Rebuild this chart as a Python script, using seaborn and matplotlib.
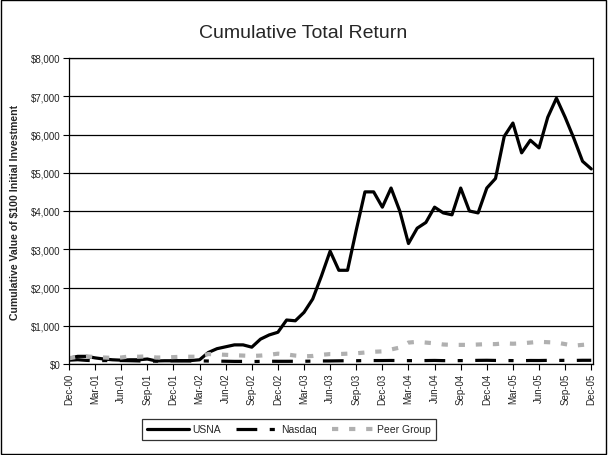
import matplotlib
matplotlib.use("Agg")
import matplotlib.pyplot as plt
from matplotlib.patches import Rectangle
from matplotlib.lines import Line2D
import seaborn as sns
import pandas as pd
import numpy as np

sns.set_style("white")
plt.rcParams["font.family"] = ["Liberation Sans", "DejaVu Sans"]

# Monthly data, Dec-00 .. Dec-05 (61 points)
months = list(range(61))
usna = [150, 200, 200, 160, 130, 110, 100, 110, 110, 130, 80, 85,
        85, 85, 90, 110, 300, 400, 450, 500, 500, 440, 650, 760,
        830, 1150, 1130, 1350, 1700, 2300, 2950, 2450, 2450, 3500, 4500, 4500,
        4100, 4600, 4000, 3150, 3550, 3700, 4100, 3950, 3900, 4600, 4000, 3950,
        4600, 4850, 5950, 6300, 5520, 5850, 5650, 6450, 6950, 6450, 5900, 5300,
        5100]
nasdaq = [100, 112, 95, 85, 90, 88, 90, 86, 80, 72, 76, 82, 85,
          84, 80, 82, 78, 76, 72, 68, 68, 64, 68, 72, 70,
          70, 71, 72, 75, 79, 80, 83, 86, 85, 89, 90, 90,
          92, 90, 88, 87, 90, 93, 88, 86, 89, 91, 95, 97,
          93, 91, 89, 86, 92, 91, 95, 94, 95, 93, 97, 97]
peer = [150, 190, 200, 180, 170, 160, 170, 200, 190, 200, 170, 170,
        180, 190, 190, 190, 260, 250, 240, 230, 220, 210, 220, 240,
        270, 250, 220, 200, 210, 240, 260, 260, 270, 280, 300, 320,
        330, 380, 430, 560, 580, 560, 540, 510, 500, 500, 500, 510,
        520, 520, 540, 530, 540, 560, 580, 570, 560, 520, 480, 500,
        520]

tick_labels = ["Dec-00", "Mar-01", "Jun-01", "Sep-01", "Dec-01", "Mar-02", "Jun-02",
               "Sep-02", "Dec-02", "Mar-03", "Jun-03", "Sep-03", "Dec-03", "Mar-04",
               "Jun-04", "Sep-04", "Dec-04", "Mar-05", "Jun-05", "Sep-05", "Dec-05"]
y_ticks = [0, 1000, 2000, 3000, 4000, 5000, 6000, 7000, 8000]
y_labels = ["$0", "$1,000", "$2,000", "$3,000", "$4,000", "$5,000", "$6,000", "$7,000", "$8,000"]

df = pd.DataFrame({"month": months, "USNA": usna, "Nasdaq": nasdaq, "Peer Group": peer})

fig = plt.figure(figsize=(6.08, 4.56), dpi=100)
ax = fig.add_axes([69 / 608, 1 - 365 / 456, 524 / 608, 306 / 456])

grey = "#B0B0B0"
nas_dash = (6.5, 3.9, 1.6, 3.9)
peer_dash = (1.5, 2.6)

sns.lineplot(data=df, x="month", y="USNA", ax=ax, color="black", linewidth=2.3, legend=False)
sns.lineplot(data=df, x="month", y="Nasdaq", ax=ax, color="black", linewidth=2.3, legend=False)
sns.lineplot(data=df, x="month", y="Peer Group", ax=ax, color=grey, linewidth=3.0, legend=False)
lines = ax.get_lines()
lines[1].set_dashes(nas_dash)
lines[1].set_dash_capstyle("butt")
lines[2].set_dashes(peer_dash)
lines[2].set_dash_capstyle("butt")

ax.set_xlim(0, 60.2)
ax.set_ylim(0, 8000)
ax.set_yticks(y_ticks)
ax.set_yticklabels(y_labels, fontsize=7)
ax.set_xticks(list(range(0, 61, 3)))
ax.set_xticklabels(tick_labels, rotation=90, fontsize=7)
ax.tick_params(axis="both", direction="out", length=4, width=0.8, color="black", pad=2,
               left=True, bottom=True)
ax.grid(axis="y", color="black", linewidth=0.9)
ax.grid(axis="x", visible=False)
for s in ax.spines.values():
    s.set_color("black")
    s.set_linewidth(0.9)
ax.set_xlabel("")
ax.set_ylabel("Cumulative Value of $100 Initial Investment", fontsize=7.6, fontweight="bold")
ax.yaxis.set_label_coords(-49 / 524, 0.5)

fig.text(0.499, 1 - 33 / 456, "Cumulative Total Return", ha="center", va="center", fontsize=14)

handles = [
    Line2D([], [], color="black", linewidth=2.3),
    Line2D([], [], color="black", linewidth=2.3, dashes=nas_dash, dash_capstyle="butt"),
    Line2D([], [], color=grey, linewidth=3.0, dashes=peer_dash, dash_capstyle="butt"),
]
leg = fig.legend(handles, ["USNA", "Nasdaq", "Peer Group"], loc="center",
                 bbox_to_anchor=(289 / 608, 1 - 430.5 / 456), ncol=3, fontsize=7.5,
                 frameon=True, fancybox=False, edgecolor="black", handlelength=4.0,
                 columnspacing=1.5, handletextpad=0.3, borderpad=0.5)
leg.get_frame().set_linewidth(0.9)

fig.add_artist(Rectangle((0.001, 0.002), 0.996, 0.995, transform=fig.transFigure,
                         fill=False, edgecolor="black", linewidth=1.0))

fig.savefig("out.png", dpi=100)
